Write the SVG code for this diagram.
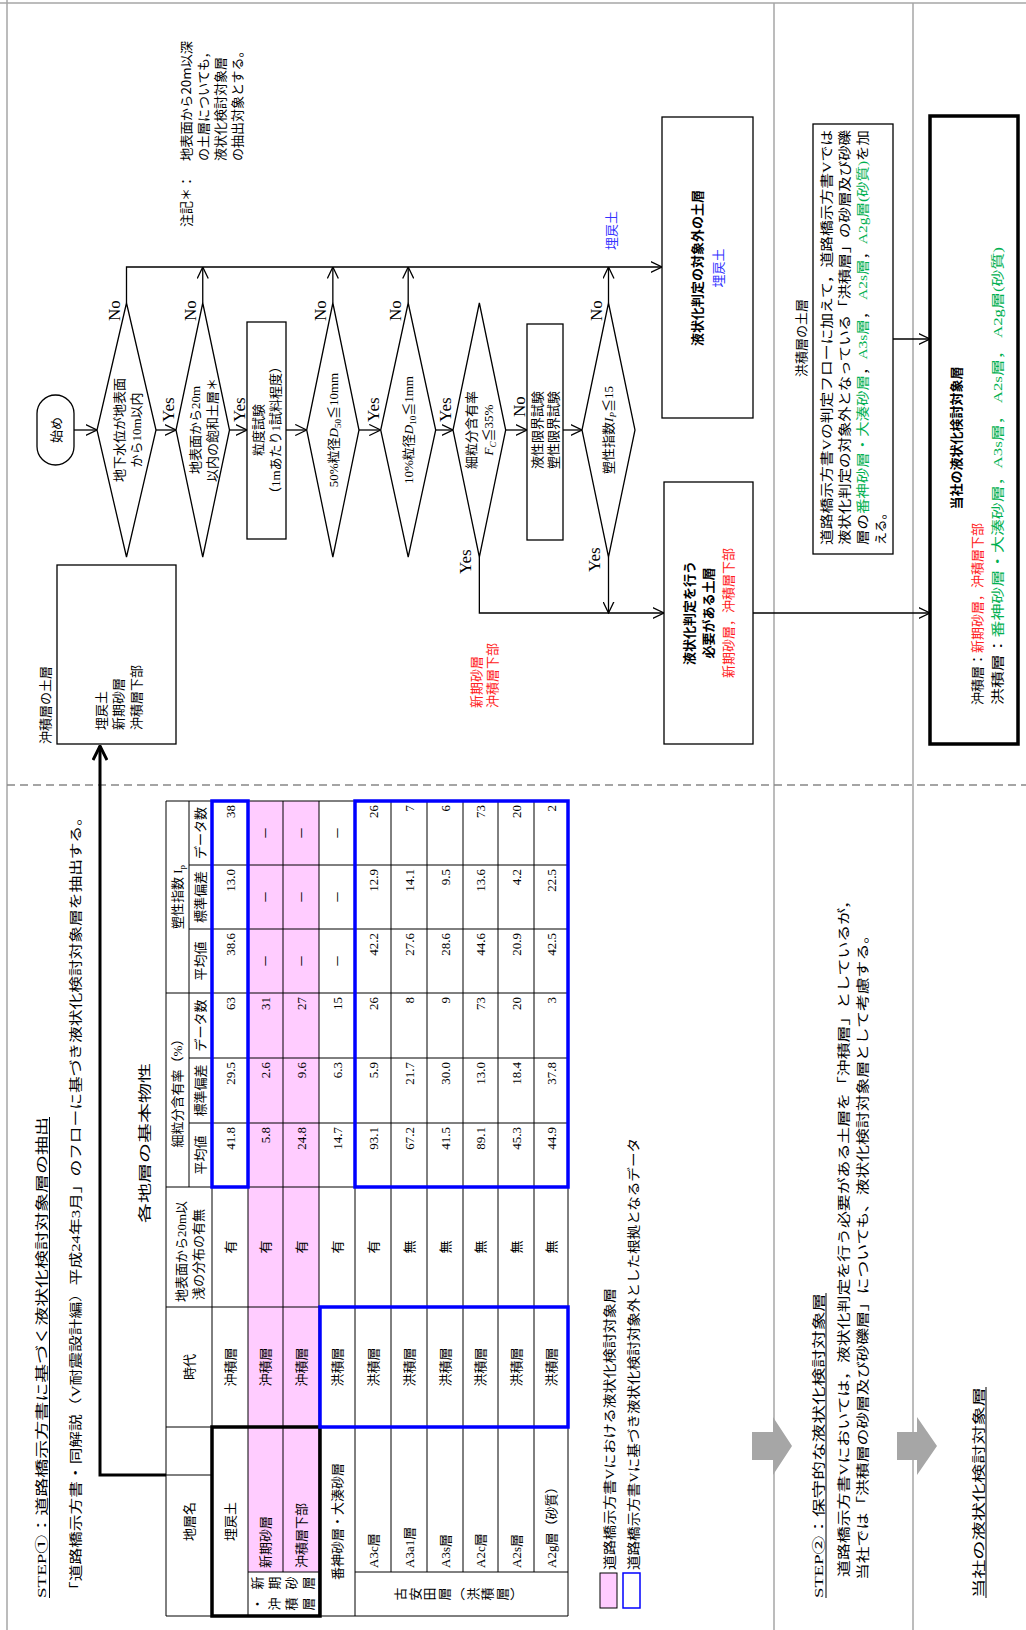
<svg xmlns="http://www.w3.org/2000/svg" width="1026" height="1630" viewBox="0 0 1026 1630">
<style>
.m{font-family:'Liberation Serif','Noto Sans CJK JP',serif;font-size:13px;fill:#000}
.g{font-family:'Noto Sans CJK JP','Liberation Sans',sans-serif;font-size:13px;fill:#000}
.b{font-weight:bold}
.c{text-anchor:middle}
.e{text-anchor:end}
.ln{stroke:#000;stroke-width:1;fill:none}
.fl{stroke:#000;stroke-width:1.3;fill:none}
.nd{stroke:#000;stroke-width:1.3;fill:#fff}
.gray{stroke:#a6a6a6;stroke-width:1.5;fill:none}
.blue{stroke:#0000ff;stroke-width:3.5;fill:none}
.red{fill:#ff2020}
.bl{fill:#3333ff}
.gr{fill:#00b050}
.pink{fill:#ffccff}
.yn{font-family:'Liberation Serif',serif;font-size:17px;fill:#000}
</style>
<defs>
<marker id="ah" viewBox="0 0 12 12" refX="11.5" refY="6" markerWidth="12" markerHeight="12" markerUnits="userSpaceOnUse" orient="auto"><path d="M0,0.5 L11.5,6 L0,11.5" fill="none" stroke="#000" stroke-width="1.3"/></marker>
<marker id="ahb" viewBox="0 0 16 16" refX="15" refY="8" markerWidth="16" markerHeight="16" markerUnits="userSpaceOnUse" orient="auto"><path d="M1,1 L15,8 L1,15" fill="none" stroke="#000" stroke-width="3"/></marker>
</defs>
<g transform="translate(0,1630) rotate(-90)">
<g id="frame">
<line class="gray" x1="0" y1="7" x2="1630" y2="7"/>
<line class="gray" x1="1627" y1="0" x2="1627" y2="1026"/>
<line class="gray" x1="0" y1="774" x2="1627" y2="774"/>
<line class="gray" x1="0" y1="913" x2="1627" y2="913"/>
<line x1="845" y1="7" x2="845" y2="1026" stroke="#888" stroke-width="1.3" stroke-dasharray="8,5"/>
</g>
<g id="step1-title">
<text class="m" x="32" y="46" font-size="18" textLength="481" lengthAdjust="spacingAndGlyphs">STEP①：道路橋示方書に基づく液状化検討対象層の抽出</text>
<line class="ln" x1="32" y1="49.5" x2="513" y2="49.5"/>
<text class="m" x="32" y="80" font-size="16" textLength="789" lengthAdjust="spacingAndGlyphs">「道路橋示方書・同解説（V耐震設計編）平成24年3月」のフローに基づき液状化検討対象層を抽出する。</text>
<text class="m" x="407" y="149" font-size="20" textLength="160" lengthAdjust="spacingAndGlyphs">各地層の基本物性</text>
</g>
<g id="table">
<rect class="pink" x="58" y="248" width="771" height="71"/>
<g class="ln">
<line x1="14" y1="166" x2="829" y2="166"/>
<line x1="443" y1="189" x2="829" y2="189"/>
<line x1="14" y1="212" x2="829" y2="212"/>
<line x1="14" y1="248" x2="829" y2="248"/>
<line x1="58" y1="283" x2="829" y2="283"/>
<line x1="14" y1="319" x2="829" y2="319"/>
<line x1="14" y1="355" x2="829" y2="355"/>
<line x1="58" y1="391" x2="829" y2="391"/>
<line x1="58" y1="427" x2="829" y2="427"/>
<line x1="58" y1="463" x2="829" y2="463"/>
<line x1="58" y1="498" x2="829" y2="498"/>
<line x1="58" y1="534" x2="829" y2="534"/>
<line x1="14" y1="568" x2="829" y2="568"/>
<line x1="14" y1="166" x2="14" y2="568"/>
<line x1="58" y1="248" x2="58" y2="319"/>
<line x1="58" y1="355" x2="58" y2="568"/>
<line x1="155" y1="166" x2="155" y2="212"/>
<line x1="203" y1="166" x2="203" y2="568"/>
<line x1="323" y1="166" x2="323" y2="568"/>
<line x1="443" y1="166" x2="443" y2="568"/>
<line x1="507" y1="189" x2="507" y2="568"/>
<line x1="572" y1="189" x2="572" y2="568"/>
<line x1="637" y1="166" x2="637" y2="568"/>
<line x1="701" y1="189" x2="701" y2="568"/>
<line x1="765" y1="189" x2="765" y2="568"/>
<line x1="829" y1="166" x2="829" y2="568"/>
</g>
<text class="m c" x="108.5" y="194">地層名</text>
<text class="m c" x="263" y="194">時代</text>
<text class="m" x="328" y="186">地表面から20m以</text>
<text class="m" x="330" y="203">浅の分布の有無</text>
<text class="m c" x="540" y="182">細粒分含有率（%）</text>
<text class="m c" x="733" y="182">塑性指数 I<tspan font-size="9" dy="3">p</tspan></text>
<text class="m c" x="475" y="205">平均値</text>
<text class="m c" x="539.5" y="205">標準偏差</text>
<text class="m c" x="604.5" y="205">データ数</text>
<text class="m c" x="669" y="205">平均値</text>
<text class="m c" x="733" y="205">標準偏差</text>
<text class="m c" x="797" y="205">データ数</text>
<text class="m c" x="108.5" y="234.5">埋戻土</text>
<text class="m" x="62" y="270">新期砂層</text>
<text class="m" x="62" y="305.5">沖積層下部</text>
<text class="m c" x="47" y="262">新</text><text class="m c" x="47" y="279">期</text><text class="m c" x="47" y="296">砂</text><text class="m c" x="47" y="313">層</text>
<text class="m c" x="26" y="262">・</text><text class="m c" x="26" y="279">沖</text><text class="m c" x="26" y="296">積</text><text class="m c" x="26" y="313">層</text>
<text class="m c" x="108.5" y="341.5">番神砂層・大湊砂層</text>
<text class="m" x="62" y="377.5">A3c層</text>
<text class="m" x="62" y="413.5">A3a1層</text>
<text class="m" x="62" y="449.5">A3s層</text>
<text class="m" x="62" y="485">A2c層</text>
<text class="m" x="62" y="520.5">A2s層</text>
<text class="m" x="62" y="555.5">A2g層（砂質）</text>
<g class="m c">
<text x="36" y="405">古</text><text x="36" y="419.5">安</text><text x="36" y="434">田</text><text x="36" y="448.5">層</text><text x="36" y="463">︵</text><text x="36" y="477.5">洪</text><text x="36" y="492">積</text><text x="36" y="506.5">層</text><text x="36" y="521">︶</text>
</g>
<g class="m c">
<text x="263" y="234.5">沖積層</text><text x="263" y="270">沖積層</text><text x="263" y="305.5">沖積層</text>
<text x="263" y="341.5">洪積層</text><text x="263" y="377.5">洪積層</text><text x="263" y="413.5">洪積層</text><text x="263" y="449.5">洪積層</text><text x="263" y="485">洪積層</text><text x="263" y="520.5">洪積層</text><text x="263" y="555.5">洪積層</text>
<text x="383" y="234.5">有</text><text x="383" y="270">有</text><text x="383" y="305.5">有</text><text x="383" y="341.5">有</text><text x="383" y="377.5">有</text>
<text x="383" y="413.5">無</text><text x="383" y="449.5">無</text><text x="383" y="485">無</text><text x="383" y="520.5">無</text><text x="383" y="555.5">無</text>
<text x="669" y="270">－</text><text x="733" y="270">－</text><text x="797" y="270">－</text>
<text x="669" y="305.5">－</text><text x="733" y="305.5">－</text><text x="797" y="305.5">－</text>
<text x="669" y="341.5">－</text><text x="733" y="341.5">－</text><text x="797" y="341.5">－</text>
</g>
<g class="m e">
<text x="503" y="234.5">41.8</text><text x="568" y="234.5">29.5</text><text x="633" y="234.5">63</text><text x="697" y="234.5">38.6</text><text x="761" y="234.5">13.0</text><text x="825" y="234.5">38</text>
<text x="503" y="270">5.8</text><text x="568" y="270">2.6</text><text x="633" y="270">31</text>
<text x="503" y="305.5">24.8</text><text x="568" y="305.5">9.6</text><text x="633" y="305.5">27</text>
<text x="503" y="341.5">14.7</text><text x="568" y="341.5">6.3</text><text x="633" y="341.5">15</text>
<text x="503" y="377.5">93.1</text><text x="568" y="377.5">5.9</text><text x="633" y="377.5">26</text><text x="697" y="377.5">42.2</text><text x="761" y="377.5">12.9</text><text x="825" y="377.5">26</text>
<text x="503" y="413.5">67.2</text><text x="568" y="413.5">21.7</text><text x="633" y="413.5">8</text><text x="697" y="413.5">27.6</text><text x="761" y="413.5">14.1</text><text x="825" y="413.5">7</text>
<text x="503" y="449.5">41.5</text><text x="568" y="449.5">30.0</text><text x="633" y="449.5">9</text><text x="697" y="449.5">28.6</text><text x="761" y="449.5">9.5</text><text x="825" y="449.5">6</text>
<text x="503" y="485">89.1</text><text x="568" y="485">13.0</text><text x="633" y="485">73</text><text x="697" y="485">44.6</text><text x="761" y="485">13.6</text><text x="825" y="485">73</text>
<text x="503" y="520.5">45.3</text><text x="568" y="520.5">18.4</text><text x="633" y="520.5">20</text><text x="697" y="520.5">20.9</text><text x="761" y="520.5">4.2</text><text x="825" y="520.5">20</text>
<text x="503" y="555.5">44.9</text><text x="568" y="555.5">37.8</text><text x="633" y="555.5">3</text><text x="697" y="555.5">42.5</text><text x="761" y="555.5">22.5</text><text x="825" y="555.5">2</text>
</g>
<rect x="14" y="212" width="189" height="108" fill="none" stroke="#000" stroke-width="3.5"/>
<rect class="blue" x="443" y="212" width="386" height="36"/>
<rect class="blue" x="443" y="355" width="386" height="213"/>
<rect class="blue" x="203" y="320" width="120" height="248"/>
</g>
<g id="legend">
<rect x="22" y="600" width="35" height="17" fill="#ffccff" stroke="#000" stroke-width="1"/>
<rect x="22" y="623" width="35" height="17" fill="#fff" stroke="#0000ff" stroke-width="1.5"/>
<text class="m" x="60" y="614" textLength="282" lengthAdjust="spacingAndGlyphs">道路橋示方書Vにおける液状化検討対象層</text>
<text class="m" x="60" y="638" textLength="432" lengthAdjust="spacingAndGlyphs">道路橋示方書Vに基づき液状化検討対象外とした根拠となるデータ</text>
</g>
<g id="connectors">
<polyline points="155,166 155,100 884,100" fill="none" stroke="#000" stroke-width="3" marker-end="url(#ahb)"/>
<line class="fl" x1="1200" y1="74" x2="1200" y2="97" marker-end="url(#ah)"/>
<line class="fl" x1="1200" y1="156" x2="1200" y2="176" marker-end="url(#ah)"/>
<line class="fl" x1="1200" y1="229.5" x2="1200" y2="247" marker-end="url(#ah)"/>
<line class="fl" x1="1200" y1="286" x2="1200" y2="306.7" marker-end="url(#ah)"/>
<line class="fl" x1="1200" y1="359" x2="1200" y2="380.7" marker-end="url(#ah)"/>
<line class="fl" x1="1200" y1="435.7" x2="1200" y2="453" marker-end="url(#ah)"/>
<line class="fl" x1="1200" y1="505.7" x2="1200" y2="527" marker-end="url(#ah)"/>
<line class="fl" x1="1200" y1="563" x2="1200" y2="582" marker-end="url(#ah)"/>
<polyline class="fl" points="1327,126.5 1363,126.5 1363,662" marker-end="url(#ah)"/>
<line class="fl" x1="1327" y1="202.75" x2="1363" y2="202.75" marker-end="url(#ah)"/>
<line class="fl" x1="1327" y1="332.85" x2="1363" y2="332.85" marker-end="url(#ah)"/>
<line class="fl" x1="1327" y1="408.2" x2="1363" y2="408.2" marker-end="url(#ah)"/>
<line class="fl" x1="1327" y1="608.5" x2="1363" y2="608.5" marker-end="url(#ah)"/>
<polyline class="fl" points="1073,479.35 1017,479.35 1017,664" marker-end="url(#ah)"/>
<line class="fl" x1="1073" y1="608.5" x2="1017" y2="608.5" marker-end="url(#ah)"/>
<line class="fl" x1="1017" y1="753" x2="1017" y2="930" marker-end="url(#ah)"/>
<line class="fl" x1="1291" y1="893" x2="1291" y2="930" marker-end="url(#ah)"/>
<text class="yn" x="1208" y="174">Yes</text>
<text class="yn" x="1208" y="245">Yes</text>
<text class="yn" x="1208" y="379">Yes</text>
<text class="yn" x="1208" y="451">Yes</text>
<text class="yn" x="1213" y="525">No</text>
<text class="yn" x="1309" y="119.5">No</text>
<text class="yn" x="1309" y="195.75">No</text>
<text class="yn" x="1309" y="325.85">No</text>
<text class="yn" x="1309" y="401.2">No</text>
<text class="yn" x="1309" y="601.5">No</text>
<text class="yn" x="1056" y="471">Yes</text>
<text class="yn" x="1058" y="600">Yes</text>
<text class="m bl" x="1380" y="616">埋戻土</text>
<text class="m red" x="922" y="481">新期砂層</text>
<text class="m red" x="922" y="497">沖積層下部</text>
</g>
<g id="note">
<text class="m" x="1403" y="191" textLength="52" lengthAdjust="spacing">注記＊：</text>
<text class="g" x="1469" y="191" textLength="120" lengthAdjust="spacingAndGlyphs">地表面から20m以深</text>
<text class="g" x="1469" y="208">の土層についても，</text>
<text class="g" x="1469" y="225">液状化検討対象層</text>
<text class="g" x="1469" y="242">の抽出対象とする。</text>
</g>
<g id="node-alluvial">
<text class="m" x="886" y="50">沖積層の土層</text>
<rect class="nd" x="886" y="57" width="179" height="119"/>
<text class="m" x="900" y="106">埋戻土</text>
<text class="m" x="900" y="123">新期砂層</text>
<text class="m" x="900" y="141">沖積層下部</text>
</g>
<g id="node-start">
<rect class="nd" x="1165" y="37" width="70" height="37" rx="18.5"/>
<text class="m c" x="1200" y="60.5" font-size="15">始め</text>
</g>
<g id="node-d1">
<polygon class="nd" points="1073,126.5 1200,97 1327,126.5 1200,156"/>
<text class="m c" x="1200" y="124">地下水位が地表面</text>
<text class="m c" x="1200" y="140.5">から10m以内</text>
</g>
<g id="node-d2">
<polygon class="nd" points="1073,202.75 1200,176 1327,202.75 1200,229.5"/>
<text class="m c" x="1200" y="200">地表面から20m</text>
<text class="m c" x="1200" y="216.5">以内の飽和土層＊</text>
</g>
<g id="node-grain">
<rect class="nd" x="1091" y="247" width="217" height="39"/>
<text class="m c" x="1200" y="263">粒度試験</text>
<text class="m c" x="1200" y="280">（1mあたり1試料程度）</text>
</g>
<g id="node-d3">
<polygon class="nd" points="1073,332.85 1200,306.7 1327,332.85 1200,359"/>
<text class="m c" x="1200" y="337.5">50%粒径<tspan font-style="italic">D</tspan><tspan font-size="9" dy="3">50</tspan><tspan dy="-3">≦10mm</tspan></text>
</g>
<g id="node-d4">
<polygon class="nd" points="1073,408.2 1200,380.7 1327,408.2 1200,435.7"/>
<text class="m c" x="1200" y="413">10%粒径<tspan font-style="italic">D</tspan><tspan font-size="9" dy="3">10</tspan><tspan dy="-3">≦1mm</tspan></text>
</g>
<g id="node-d5">
<polygon class="nd" points="1073,479.35 1200,453 1327,479.35 1200,505.7"/>
<text class="m c" x="1200" y="476">細粒分含有率</text>
<text class="m c" x="1200" y="493"><tspan font-style="italic">F</tspan><tspan font-size="9" dy="3" font-style="italic">C</tspan><tspan dy="-3">≦35%</tspan></text>
</g>
<g id="node-limit">
<rect class="nd" x="1090" y="527" width="216" height="36"/>
<text class="m c" x="1200" y="542">液性限界試験</text>
<text class="m c" x="1200" y="558">塑性限界試験</text>
</g>
<g id="node-d6">
<polygon class="nd" points="1073,608.5 1200,582 1327,608.5 1200,635"/>
<text class="m c" x="1200" y="613">塑性指数<tspan font-style="italic">I</tspan><tspan font-size="9" dy="3" font-style="italic">P</tspan><tspan dy="-3">≦15</tspan></text>
</g>
<g id="node-excluded">
<rect class="nd" x="1212" y="662" width="301" height="91"/>
<text class="g b c" x="1362" y="702">液状化判定の対象外の土層</text>
<text class="m bl c" x="1362" y="723">埋戻土</text>
</g>
<g id="node-required">
<rect class="nd" x="886" y="664" width="262" height="89"/>
<text class="g b c" x="1017" y="694">液状化判定を行う</text>
<text class="g b c" x="1017" y="713">必要がある土層</text>
<text class="m red c" x="1017" y="733">新期砂層，沖積層下部</text>
</g>
<g id="step2">
<text class="m" x="32" y="823" font-size="18" textLength="305" lengthAdjust="spacingAndGlyphs">STEP②：保守的な液状化検討対象層</text>
<line class="ln" x1="32" y1="826" x2="337" y2="826"/>
<text class="m" x="53" y="848" font-size="15" textLength="685" lengthAdjust="spacingAndGlyphs">道路橋示方書Vにおいては，液状化判定を行う必要がある土層を「沖積層」としているが，</text>
<text class="m" x="50" y="867" font-size="15" textLength="653" lengthAdjust="spacingAndGlyphs">当社では「洪積層の砂層及び砂礫層」についても、液状化検討対象層として考慮する。</text>
<polygon points="170,752 198,752 198,773 213,773 184,792 155,773 170,773" fill="#a6a6a6"/>
<polygon points="170,897 198,897 198,917 213,917 184,937 155,917 170,917" fill="#a6a6a6"/>
</g>
<g id="node-diluvial">
<text class="m c" x="1292" y="806">洪積層の土層</text>
<rect class="nd" x="1076" y="813" width="430" height="80"/>
<text class="m" x="1085" y="831" textLength="415" lengthAdjust="spacingAndGlyphs">道路橋示方書Vの判定フローに加えて，道路橋示方書Vでは</text>
<text class="m" x="1085" y="849" textLength="415" lengthAdjust="spacingAndGlyphs">液状化判定の対象外となっている「洪積層」の砂層及び砂礫</text>
<text class="m" x="1085" y="867" textLength="415" lengthAdjust="spacingAndGlyphs">層の<tspan class="gr">番神砂層・大湊砂層</tspan>，<tspan class="gr">A3s層</tspan>，  <tspan class="gr">A2s層</tspan>，<tspan class="gr">A2g層(砂質)</tspan>を加</text>
<text class="m" x="1085" y="885">える。</text>
</g>
<g id="node-target">
<text class="m" x="32" y="983" font-size="17" textLength="211" lengthAdjust="spacingAndGlyphs">当社の液状化検討対象層</text>
<line class="ln" x1="32" y1="986" x2="243" y2="986"/>
<rect x="886" y="930" width="628" height="88" fill="#fff" stroke="#000" stroke-width="3.5"/>
<text class="g b c" x="1192" y="961">当社の液状化検討対象層</text>
<text class="m" x="925" y="982">沖積層：<tspan class="red">新期砂層，沖積層下部</tspan></text>
<text class="m" x="925" y="1002" textLength="458" lengthAdjust="spacingAndGlyphs">洪積層：<tspan class="gr">番神砂層・大湊砂層，A3s層，  A2s層，  A2g層(砂質)</tspan></text>
</g>
</g>
</svg>
